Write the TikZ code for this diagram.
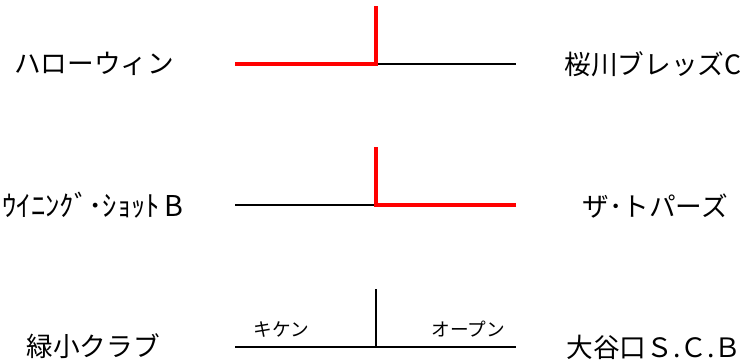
\documentclass[tikz,border=0pt]{standalone}
\usepackage{fontspec}
\setmainfont{Noto Sans CJK JP}
\usetikzlibrary{positioning}

\tikzset{
  team/.style={font=\fontsize{20pt}{24pt}\selectfont, inner sep=0pt},
  tag/.style={font=\fontsize{14pt}{17pt}\selectfont, inner sep=0pt},
  lose/.style={draw=black, line width=1.8pt},
  win/.style={draw=red, line width=2.5pt},
}

\begin{document}
\begin{tikzpicture}[x=0.75pt,y=-0.75pt]
  \useasboundingbox (0,0) rectangle (752,362);

  % bracket points of the three matches
  \foreach \n/\yy in {a/64,b/205,c/347} {
    \coordinate (\n L) at (235,\yy);
    \coordinate (\n M) at (376,\yy);
    \coordinate (\n R) at (516,\yy);
    \coordinate (\n T) at (376,\yy-58);
  }

  \node[team] (halo) at (94,64) {ハローウィン};
  \node[team] (sakura) at (653,64) {桜川ブレッズC};
  \node[team, font=\fontsize{21.5pt}{24pt}\selectfont] (wing) at (93,205) {ｳｲﾆﾝｸﾞ･ｼｮｯﾄ\,B};
  \node[team] (topaz) at (655,206) {ザ･トパーズ};
  \node[team] (midori) at (93,346) {緑小クラブ};
  \node[team] (otani) at (654,347) {大谷口Ｓ.Ｃ.Ｂ};

  \draw[lose] (aM) -- (aR);
  \draw[win] (aL) -- (aM) -- (aT);

  \draw[lose] (bL) -- (bM);
  \draw[win] (bR) -- (bM) -- (bT);

  \draw[lose] (cL) -- (cR);
  \draw[lose] (cM) -- (cT);
  \path (cL) -- node[tag, pos=0.33, above=7pt] (kiken) {キケン} (cM);
  \path (cM) -- node[tag, pos=0.66, above=7pt] (open) {オープン} (cR);
\end{tikzpicture}
\end{document}
